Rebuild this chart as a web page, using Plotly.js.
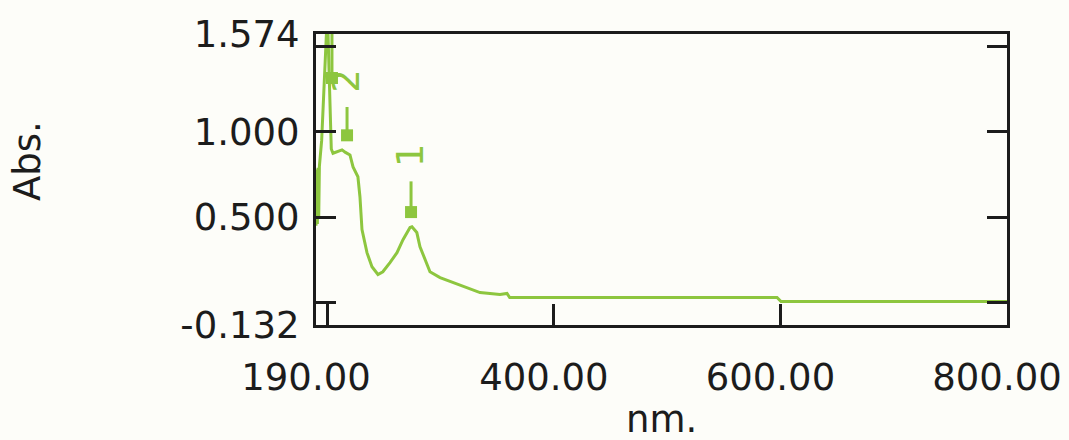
<!DOCTYPE html>
<html>
<head>
<meta charset="utf-8">
<script src="https://cdn.plot.ly/plotly-3.0.1.min.js"></script>
<style>
html,body{margin:0;padding:0;background:#fdfdf9;}
#chart{width:1069px;height:440px;}
</style>
</head>
<body>
<div id="chart"></div>
<script>
// Spectrum (wavelength nm, absorbance)
const wavelength = [190,190.6,191.2,191.8,192.4,193,195,197,198.5,199.5,200.5,201.5,202.5,203.5,205,207,210,213,216,220,222.7,227,228.8,230.6,235,239.4,244.7,249,255.3,261.5,266.8,273,274.7,279,281.8,286.2,290.6,299.5,311,323,334.8,352.4,358.6,361,597,600.5,800];
const absorbance = [0.45,0.78,0.46,0.79,0.50,0.80,0.95,1.25,1.55,1.62,1.60,1.30,1.00,0.90,0.875,0.88,0.89,0.895,0.88,0.865,0.795,0.737,0.62,0.427,0.292,0.21,0.164,0.18,0.234,0.292,0.368,0.44,0.444,0.41,0.327,0.25,0.18,0.146,0.117,0.088,0.058,0.047,0.053,0.029,0.029,0.006,0.006];

// Peak picks
const peakX = [273.9, 217.4, 204.1];
const peakMarkY = [0.53, 0.98, 1.316];
const peakLineTop = [0.71, 1.146, 1.62];
const peakLabels = ["1", "2", ""];
const peakLabelY = [0.865, 1.30, 1.9];

// Axis ticks
const xTickVals = [190, 200, 400, 600, 800];
const xTickText = ["190.00", "", "400.00", "600.00", "800.00"];
const yTickVals = [-0.132, 0, 0.5, 1.0, 1.5, 1.574];
const yTickText = ["-0.132", "", "0.500", "1.000", "", "1.574"];

const green = '#8dc63f';
const ink = '#1c1c1c';
const font = 'DejaVu Sans, sans-serif';

const traces = [{
  x: wavelength, y: absorbance, type: 'scatter', mode: 'lines',
  line: {color: green, width: 3}, hoverinfo: 'skip', showlegend: false
}];
for (let i = 0; i < peakX.length; i++) {
  traces.push({
    x: [peakX[i], peakX[i]], y: [peakMarkY[i], peakLineTop[i]],
    type: 'scatter', mode: 'lines', line: {color: green, width: 3},
    showlegend: false, hoverinfo: 'skip'
  });
}
traces.push({
  x: peakX, y: peakMarkY, type: 'scatter', mode: 'markers',
  marker: {symbol: 'square', size: 12, color: green},
  showlegend: false, hoverinfo: 'skip'
});

const annotations = [];
for (let i = 0; i < peakX.length; i++) {
  if (!peakLabels[i]) continue;
  annotations.push({
    x: peakX[i], y: peakLabelY[i], xref: 'x', yref: 'y', text: peakLabels[i],
    showarrow: false, textangle: -90, font: {family: font, size: 37, color: green},
    xanchor: 'center', yanchor: 'middle'
  });
}
annotations.push({
  xref: 'paper', yref: 'paper', x: -0.4168, y: 0.5636, text: 'Abs.',
  showarrow: false, textangle: -90, font: {family: font, size: 37, color: ink},
  xanchor: 'center', yanchor: 'middle'
});
annotations.push({
  xref: 'paper', yref: 'paper', x: 0.5, y: -0.325, text: 'nm.',
  showarrow: false, font: {family: font, size: 37, color: ink},
  xanchor: 'center', yanchor: 'middle'
});

const layout = {
  width: 1069, height: 440,
  margin: {l: 316, r: 62, t: 34, b: 115},
  paper_bgcolor: '#fdfdf9', plot_bgcolor: '#fdfdf9',
  font: {family: font, size: 37, color: ink},
  xaxis: {
    range: [190, 800], tickmode: 'array', tickvals: xTickVals, ticktext: xTickText,
    ticks: 'inside', ticklen: 21, tickwidth: 3, tickcolor: ink,
    showline: true, linecolor: ink, linewidth: 3, mirror: true,
    showgrid: false, zeroline: false, ticklabelstandoff: 18, ticklabelshift: -10,
    ticklabeloverflow: 'allow',
    tickfont: {family: font, size: 37, color: ink}
  },
  yaxis: {
    range: [-0.132, 1.574], tickmode: 'array', tickvals: yTickVals, ticktext: yTickText,
    ticks: 'inside', ticklen: 20, tickwidth: 3, tickcolor: ink,
    showline: true, linecolor: ink, linewidth: 3, mirror: 'ticks',
    showgrid: false, zeroline: false, ticklabelstandoff: 6,
    ticklabeloverflow: 'allow',
    tickfont: {family: font, size: 37, color: ink}
  },
  annotations: annotations,
  showlegend: false
};

Plotly.newPlot('chart', traces, layout, {displayModeBar: false, staticPlot: true});
</script>
</body>
</html>
